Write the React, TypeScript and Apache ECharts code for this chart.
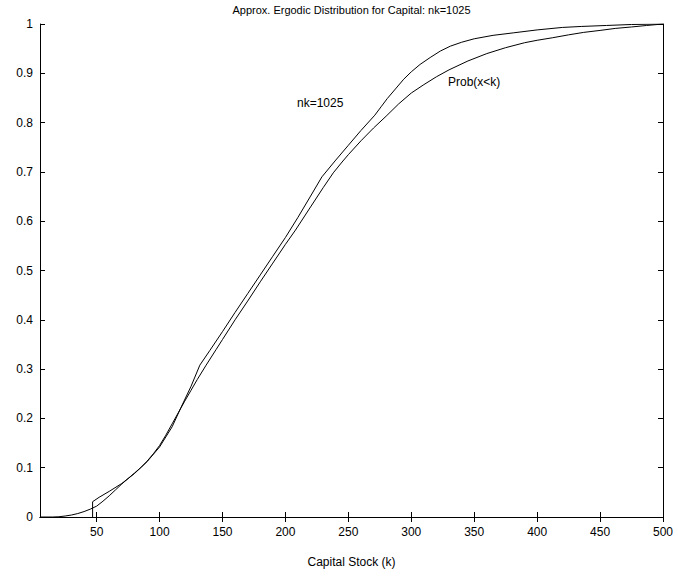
import React, { useEffect, useRef } from "react";
import * as echarts from "echarts";

const titleText = "Approx. Ergodic Distribution for Capital: nk=1025";
const xAxisName = "Capital Stock (k)";
const xTicks = [50, 100, 150, 200, 250, 300, 350, 400, 450, 500];
const yTicks = [0, 0.1, 0.2, 0.3, 0.4, 0.5, 0.6, 0.7, 0.8, 0.9, 1];

// smooth ergodic CDF, Prob(x<k)
const probK = [5, 15, 20, 25, 30, 35, 40, 45, 50, 55, 60, 65, 70, 75, 80, 85, 90, 95, 100, 105, 110, 115, 120, 125, 130, 137, 145, 150, 160, 170, 180, 190, 200, 208, 220, 230, 238, 245, 250, 260, 270, 280, 290, 300, 310, 320, 330, 345, 360, 375, 390, 400, 412, 425, 437, 450, 462, 475, 487, 500];
const probV = [0, 0, 0.0005, 0.002, 0.004, 0.007, 0.011, 0.016, 0.022, 0.032, 0.043, 0.055, 0.067, 0.078, 0.089, 0.1, 0.113, 0.128, 0.145, 0.166, 0.189, 0.212, 0.235, 0.257, 0.279, 0.308, 0.34, 0.36, 0.4, 0.438, 0.477, 0.515, 0.553, 0.582, 0.629, 0.668, 0.698, 0.72, 0.735, 0.763, 0.789, 0.813, 0.838, 0.86, 0.877, 0.893, 0.907, 0.925, 0.94, 0.952, 0.962, 0.967, 0.972, 0.978, 0.983, 0.987, 0.991, 0.994, 0.997, 1.0];

// approximated distribution, nk=1025
const nkK = [46.8, 46.8, 52, 60, 70, 80, 90, 100, 110, 117, 125, 132, 140, 150, 160, 170, 180, 190, 200, 210, 220, 229, 240, 250, 260, 271, 276, 281, 288, 294, 300, 307, 315, 323, 331, 340, 350, 365, 381, 400, 420, 435, 455, 475, 500];
const nkV = [0, 0.031, 0.04, 0.052, 0.068, 0.088, 0.112, 0.142, 0.183, 0.222, 0.265, 0.308, 0.338, 0.376, 0.415, 0.453, 0.491, 0.529, 0.567, 0.608, 0.651, 0.69, 0.724, 0.754, 0.784, 0.815, 0.832, 0.849, 0.87, 0.888, 0.903, 0.918, 0.932, 0.945, 0.955, 0.963, 0.97, 0.977, 0.982, 0.988, 0.993, 0.995, 0.997, 0.999, 1.0];

const nkLabel = "nk=1025";
const probLabel = "Prob(x<k)";

const FONT = "'Liberation Sans', Arial, Helvetica, sans-serif";

export default function App() {
  const ref = useRef<HTMLDivElement>(null);
  useEffect(() => {
    if (!ref.current) return;
    const chart = echarts.init(ref.current, undefined, { renderer: "svg" });
    const axisLine = { show: true, lineStyle: { color: "#000", width: 1 } };
    const xCommon = {
      type: "value" as const,
      min: 5,
      max: 500,
      axisLine,
      splitLine: { show: false },
      axisTick: { show: true, inside: true, length: 5, customValues: xTicks, lineStyle: { color: "#000" } },
    };
    const yCommon = {
      type: "value" as const,
      min: yTicks[0],
      max: yTicks[yTicks.length - 1],
      interval: 0.1,
      axisLine,
      splitLine: { show: false },
      axisTick: { show: true, inside: true, length: 5, lineStyle: { color: "#000" } },
    };
    chart.setOption({
      animation: false,
      backgroundColor: "#fff",
      textStyle: { fontFamily: FONT },
      grid: { left: 40, top: 24, right: 15, bottom: 65, containLabel: false },
      xAxis: [
        {
          ...xCommon,
          position: "bottom",
          name: xAxisName,
          nameLocation: "middle",
          nameGap: 39,
          nameTextStyle: { color: "#000", fontSize: 12, fontFamily: FONT },
          axisLabel: { show: true, customValues: xTicks, color: "#000", fontSize: 12, margin: 9, fontFamily: FONT },
        },
        {
          ...xCommon,
          position: "top",
          axisLabel: { show: false },
        },
      ],
      yAxis: [
        {
          ...yCommon,
          position: "left",
          axisLabel: {
            show: true,
            color: "#000",
            fontSize: 12,
            margin: 7,
            fontFamily: FONT,
            formatter: (v: number) => String(Math.round(v * 10) / 10),
          },
        },
        {
          ...yCommon,
          position: "right",
          axisLabel: { show: false },
        },
      ],
      series: [
        {
          name: probLabel,
          type: "line",
          xAxisIndex: 0,
          yAxisIndex: 0,
          showSymbol: false,
          smooth: false,
          lineStyle: { color: "#000", width: 1 },
          data: probK.map((k, i) => [k, probV[i]]),
        },
        {
          name: nkLabel,
          type: "line",
          xAxisIndex: 0,
          yAxisIndex: 0,
          showSymbol: false,
          smooth: false,
          lineStyle: { color: "#000", width: 1 },
          data: nkK.map((k, i) => [k, nkV[i]]),
        },
      ],
      graphic: [
        {
          type: "text",
          x: 351.5,
          y: 10,
          style: { text: titleText, fill: "#000", fontSize: 11, fontFamily: FONT, textAlign: "center", textVerticalAlign: "middle" },
        },
        {
          type: "text",
          x: 297,
          y: 103,
          style: { text: nkLabel, fill: "#000", fontSize: 12, fontFamily: FONT, textAlign: "left", textVerticalAlign: "middle" },
        },
        {
          type: "text",
          x: 448,
          y: 82,
          style: { text: probLabel, fill: "#000", fontSize: 12, fontFamily: FONT, textAlign: "left", textVerticalAlign: "middle" },
        },
      ],
    });
    return () => chart.dispose();
  }, []);
  return <div ref={ref} style={{ width: 678, height: 582, position: "absolute", left: 0, top: 0 }} />;
}
